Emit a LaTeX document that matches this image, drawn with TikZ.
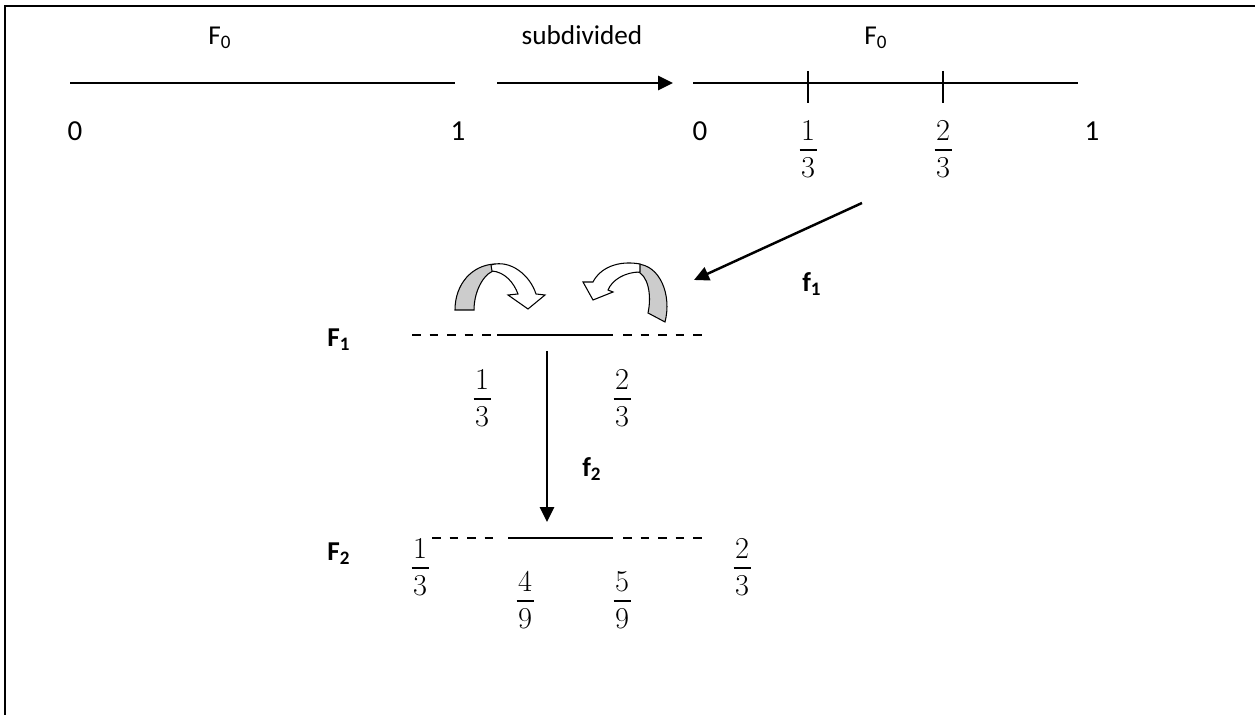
\documentclass[tikz,border=0pt]{standalone}
\usepackage{amsmath}
\usepackage[no-math]{fontspec}
\setmainfont{Carlito}
\usetikzlibrary{arrows.meta}
\newcommand\fracat[5]{%
  \node[fdig] (#1n) at (#2,#3-9) {$#4$};
  \node[fdig] (#1d) at (#2,#3+28) {$#5$};
  \draw[fbar] (#2,#3) ++(-8.5,0) -- ++(17,0);}
\begin{document}
\begin{tikzpicture}[x=0.02cm,y=-0.02cm,
  lbl/.style={font=\fontsize{15.5}{18}\selectfont, inner sep=0pt, anchor=base},
  numlbl/.style={font=\fontsize{16.5}{19}\selectfont, inner sep=0pt, anchor=base},
  bl/.style={font=\fontsize{15.5}{18}\selectfont\bfseries, inner sep=0pt, anchor=base west},
  fdig/.style={font=\fontsize{16}{19}\selectfont, inner sep=0pt, anchor=base},
  fbar/.style={line width=1.3pt},
  seg/.style={line width=1.1pt},
  dseg/.style={line width=1.1pt, dash pattern=on 5pt off 5pt},
  arr/.style={line width=1.4pt, -{Triangle[length=8.5pt,width=8pt]}},
  curv/.style={draw=black, line width=0.6pt, line join=miter},
  frame/.style={line width=1.1pt}]
\useasboundingbox (0,0) rectangle (1255,715);
% frame
\coordinate (fc) at (5,6);
\coordinate (fr) at (1255,6);
\coordinate (fb) at (5,715);
\draw[frame] (fr) -- (fc) -- (fb);

% top-left F0
\node[lbl] (F0a) at (220,45) {F\textsubscript{0}};
\coordinate (L0) at (70,83);
\coordinate (L1) at (455,83);
\draw[seg] (L0) -- (L1);
\node[numlbl] (z0) at (75,141) {0};
\node[numlbl] (o0) at (458,141) {1};

% subdivided arrow
\node[lbl] (sub) at (582,45) {subdivided};
\coordinate (sa) at (497,83);
\coordinate (sb) at (673,83);
\draw[arr] (sa) -- (sb);

% top-right F0
\node[lbl] (F0b) at (876,45) {F\textsubscript{0}};
\coordinate (R0) at (693,83);
\coordinate (R1) at (1078,83);
\draw[seg] (R0) -- (R1);
\coordinate (t1a) at (808,71); \coordinate (t1b) at (808,103);
\coordinate (t2a) at (943,71); \coordinate (t2b) at (943,103);
\draw[seg] (t1a) -- (t1b);
\draw[seg] (t2a) -- (t2b);
\node[numlbl] (z1) at (700,141) {0};
\node[numlbl] (o1) at (1092,141) {1};
\fracat{r13}{808}{150}{1}{3}
\fracat{r23}{943}{150}{2}{3}

% f1 arrow
\coordinate (f1s) at (862,203);
\coordinate (f1e) at (694,280);
\draw[arr] (f1s) -- (f1e);
\node[bl] (f1) at (802,292) {f\textsubscript{1}};

% curved arrows
\fill[gray!40] (455,310) .. controls (455,284) and (472,265) .. (495,264)
  -- (497,270) .. controls (485,271) and (474,290) .. (474,310) -- cycle;
\draw[curv] (455,310) .. controls (455,284) and (472,265) .. (495,264)
  -- (497,270) .. controls (485,271) and (474,290) .. (474,310) -- cycle;
\filldraw[curv, fill=white] (491,265) .. controls (510,259) and (530,275) .. (536,294)
  -- (545,295) -- (528,309) -- (508,295) -- (518,294)
  .. controls (514,283) and (505,272) .. (492,271) -- cycle;

\fill[gray!40] (665,322) .. controls (672,295) and (660,265) .. (637,264)
  -- (636,271) .. controls (648,274) and (652,295) .. (648,313) -- cycle;
\draw[curv] (665,322) .. controls (672,295) and (660,265) .. (637,264)
  -- (636,271) .. controls (648,274) and (652,295) .. (648,313) -- cycle;
\filldraw[curv, fill=white] (640,264) .. controls (618,260) and (600,268) .. (593,282)
  -- (583,282) -- (593,300) -- (613,292) -- (608,290)
  .. controls (612,280) and (625,272) .. (640,272) -- cycle;

% F1
\node[bl] (F1) at (327,347) {F\textsubscript{1}};
\coordinate (a1) at (412,335); \coordinate (a2) at (497,335);
\coordinate (a3) at (613,335); \coordinate (a4) at (623,335);
\coordinate (a5) at (708,335);
\draw[dseg] (a1) -- (a2);
\draw[seg] (a2) -- (a3);
\draw[dseg] (a4) -- (a5);
\fracat{m13}{482}{399}{1}{3}
\fracat{m23}{622}{399}{2}{3}

% f2 arrow
\coordinate (f2s) at (547,351);
\coordinate (f2e) at (547,522);
\draw[arr] (f2s) -- (f2e);
\node[bl] (f2) at (582,477) {f\textsubscript{2}};

% F2
\node[bl] (F2) at (327,561) {F\textsubscript{2}};
\coordinate (b1) at (432,538); \coordinate (b2) at (498,538);
\coordinate (b3) at (508,538); \coordinate (b4) at (613,538);
\coordinate (b5) at (623,538); \coordinate (b6) at (708,538);
\draw[dseg] (b1) -- (b2);
\draw[seg] (b3) -- (b4);
\draw[dseg] (b5) -- (b6);
\fracat{n13}{420}{568}{1}{3}
\fracat{n23}{742}{568}{2}{3}
\fracat{n49}{525}{601}{4}{9}
\fracat{n59}{622}{601}{5}{9}
\end{tikzpicture}
\end{document}
